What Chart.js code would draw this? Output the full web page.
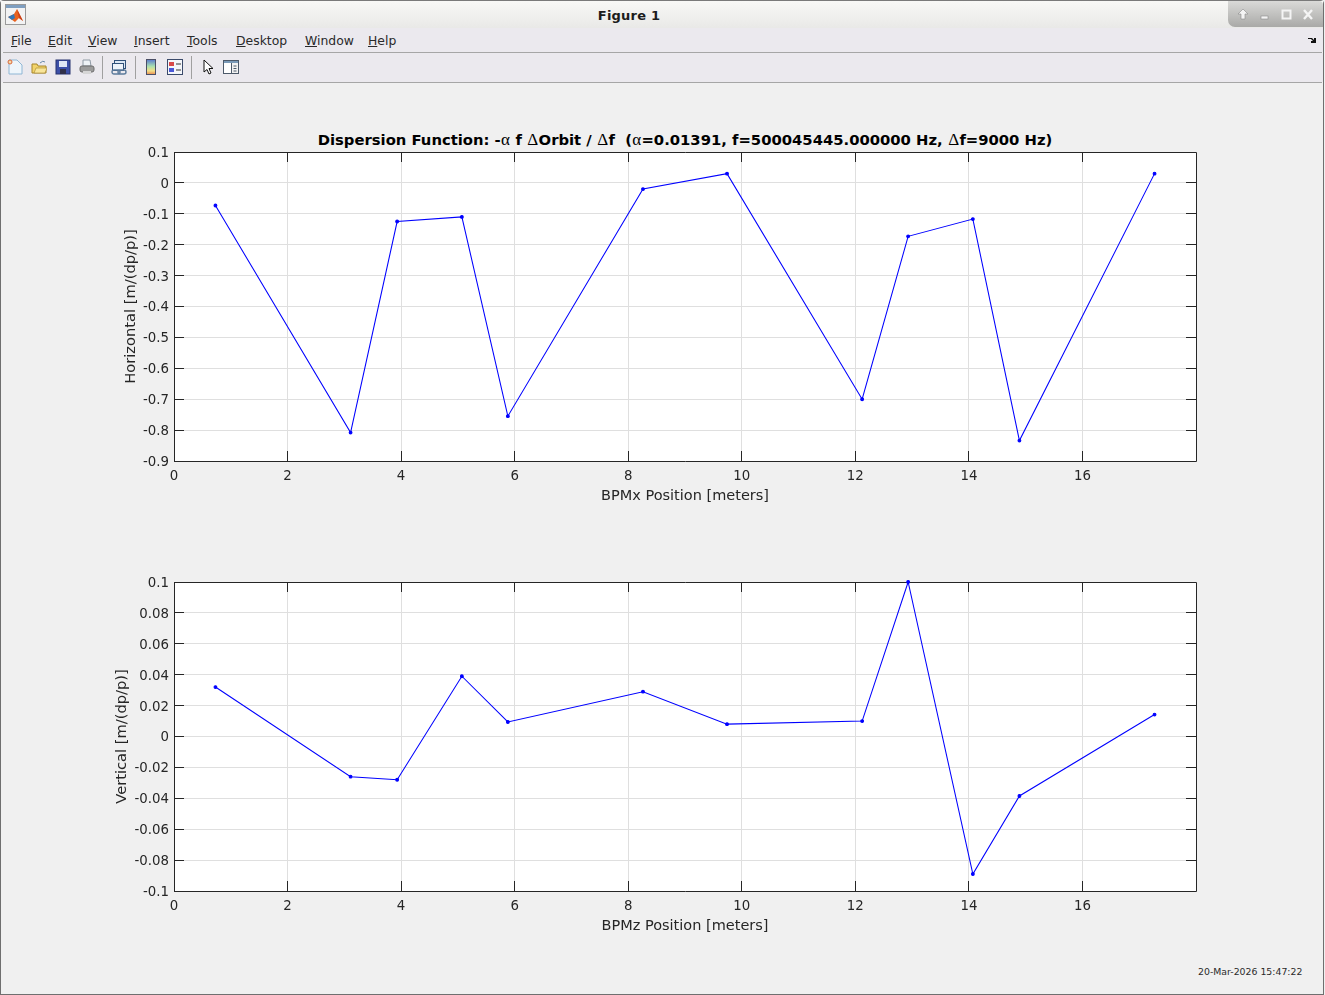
<!DOCTYPE html>
<html>
<head>
<meta charset="utf-8">
<title>Figure 1</title>
<script src="https://cdn.jsdelivr.net/npm/chart.js@4/dist/chart.umd.min.js"></script>
<style>
  html, body { margin: 0; padding: 0; width: 1325px; height: 995px; overflow: hidden; background: #f0f0f0; font-family: "DejaVu Sans", sans-serif; }
  .abs { position: absolute; }
  #win { position: absolute; left: 0; top: 0; width: 1324px; height: 995px; border: 1px solid #6f6f6f; border-top: 1px solid #7a7a7a; box-sizing: border-box; border-radius: 4px 4px 0 0; }
  #titlebar { left: 1px; top: 1px; width: 1322px; height: 27px; background: linear-gradient(#f8f8f6, #e9e9e7); }
  #figname { left: 529px; top: 8px; width: 200px; text-align: center; font-weight: bold; font-size: 13px; color: #1c1c1c; letter-spacing: .2px; }
  #btns { left: 1228px; top: 1px; width: 95px; height: 26px; background: linear-gradient(#dadad8, #a9a9a7); border-radius: 0 4px 0 7px; }
  #menubar { left: 1px; top: 28px; width: 1322px; height: 24px; background: #ebe9ee; }
  #toolbar { left: 1px; top: 53px; width: 1322px; height: 29px; background: #ebe9ee; }
  .hr { left: 3px; width: 1319px; height: 1px; background: #a6a6a6; }
  .menu { top: 33px; font-size: 12.4px; color: #2a2a2a; }
  .sep { top: 56px; width: 1px; height: 23px; background: #a0a0a0; }
  .ico { top: 59px; width: 16px; height: 16px; }
  #plotTitle { left: 185px; top: 131px; width: 1000px; text-align: center; font-weight: bold; font-size: 14.8px; color: #000; white-space: pre; }
  #plotTitle i { font-family: "Liberation Serif", serif; font-weight: normal; font-style: normal; font-size: 17px; line-height: 1; padding: 0 .3px; }
  #stamp { left: 1198px; top: 966px; font-size: 9.35px; color: #2a2a2a; }
  canvas { position: absolute; left: 0; }
</style>
</head>
<body>
<div id="win"></div>
<div class="abs" id="titlebar"></div>
<svg class="abs" style="left:5px;top:4px" width="22" height="22" viewBox="0 0 22 22">
  <rect x=".5" y=".5" width="20" height="20" fill="#f3f3f3" stroke="#9a9a9a"/>
  <rect x="1" y="1" width="19" height="3" fill="#7f9fc0"/>
  <path d="M3 13 L9 10 L12 5 L18 17 L14 14 L10 18 Z" fill="#e8621f"/>
  <path d="M3 13 L9 10 L10 14 L7 16 Z" fill="#2f76b8"/>
  <path d="M12 5 L18 17 L14 14 Z" fill="#c9401a"/>
</svg>
<div class="abs" id="figname">Figure 1</div>
<div class="abs" id="btns"></div>
<svg class="abs" style="left:1236px;top:8px" width="82" height="14" viewBox="0 0 82 14">
  <path d="M7 1 L12 6 H9 V11 H5 V6 H2 Z" fill="#f4f4f4" stroke="#8a8a8a" stroke-width=".6"/>
  <rect x="25" y="8" width="7" height="3" fill="#f4f4f4" stroke="#8a8a8a" stroke-width=".6"/>
  <rect x="46.5" y="2.5" width="8" height="8" fill="none" stroke="#f4f4f4" stroke-width="2"/>
  <path d="M68 2 L76 11 M76 2 L68 11" stroke="#f4f4f4" stroke-width="2.4"/>
</svg>
<div class="abs" id="menubar"></div>
<div class="abs hr" style="top:52px"></div>
<div class="abs" id="toolbar"></div>
<div class="abs hr" style="top:82px"></div>
<span class="abs menu" style="left:11px"><u>F</u>ile</span>
<span class="abs menu" style="left:48px"><u>E</u>dit</span>
<span class="abs menu" style="left:88px"><u>V</u>iew</span>
<span class="abs menu" style="left:134px"><u>I</u>nsert</span>
<span class="abs menu" style="left:187px"><u>T</u>ools</span>
<span class="abs menu" style="left:236px"><u>D</u>esktop</span>
<span class="abs menu" style="left:305px"><u>W</u>indow</span>
<span class="abs menu" style="left:368px"><u>H</u>elp</span>
<svg class="abs" style="left:1308px;top:37px" width="9" height="7" viewBox="0 0 9 7"><path d="M0 1 H4 L6 3 V1 H8 V6 H3 V4 H5 L3 2 H0 Z" fill="#111"/></svg>
<svg class="abs ico" style="left:7px" viewBox="0 0 16 16"><path d="M2 1 H10 L15 6 V15 H2 Z" fill="#eef5fb" stroke="#8fb6d4"/><circle cx="3" cy="3" r="2" fill="#f6d9a8" stroke="#d9683a"/></svg>
<svg class="abs ico" style="left:31px" viewBox="0 0 16 16"><path d="M1 5 H6 L7 7 H15 V14 H1 Z" fill="#f2d36b" stroke="#a6852a"/><path d="M3 14 L5 9 H16 L14 14 Z" fill="#f8e59a" stroke="#a6852a" stroke-width=".6"/><path d="M9 4 Q12 1 14 3" fill="none" stroke="#6a88a8"/></svg>
<svg class="abs ico" style="left:55px" viewBox="0 0 16 16"><rect x="1" y="1" width="14" height="14" fill="#3c4fa8" stroke="#27336e"/><rect x="4" y="2" width="8" height="6" fill="#dfe6f5"/><rect x="5" y="10" width="6" height="5" fill="#30304a"/></svg>
<svg class="abs ico" style="left:79px" viewBox="0 0 16 16"><path d="M4 1 H11 L12 7 H4 Z" fill="#eef2f6" stroke="#8f9aa5"/><rect x="1" y="7" width="14" height="6" rx="2" fill="#9b9b9b" stroke="#6d6d6d"/><rect x="4" y="12" width="8" height="3" fill="#d6d6d6"/></svg>
<div class="abs sep" style="left:102px"></div>
<svg class="abs ico" style="left:111px" viewBox="0 0 16 16"><rect x="3.500" y="1.500" width="11" height="8" fill="#dce8f4" stroke="#31527a"/><rect x="1.500" y="4.500" width="11" height="7" fill="#eef4fa" stroke="#31527a"/><rect x="1" y="11" width="8" height="4" rx="2" fill="none" stroke="#5c7b9c" stroke-width="1.400"/><rect x="7" y="11" width="8" height="4" rx="2" fill="none" stroke="#5c7b9c" stroke-width="1.400"/></svg>
<div class="abs sep" style="left:135px"></div>
<svg class="abs ico" style="left:143px" viewBox="0 0 16 16"><defs><linearGradient id="cb" x1="0" y1="0" x2="0" y2="1"><stop offset="0" stop-color="#5a78d0"/><stop offset=".45" stop-color="#a8e0b0"/><stop offset=".75" stop-color="#f2e088"/><stop offset="1" stop-color="#e88a50"/></linearGradient></defs><rect x="3.500" y=".5" width="9" height="15" fill="url(#cb)" stroke="#4a4f66"/></svg>
<svg class="abs ico" style="left:167px" viewBox="0 0 16 16"><rect x=".5" y=".5" width="15" height="15" fill="#f4f6fa" stroke="#3a4a6a"/><rect x="2" y="3" width="5" height="4" fill="#d84a4a"/><rect x="2" y="9" width="5" height="4" fill="#4a58d8"/><path d="M9 5 H14 M9 11 H14" stroke="#333"/></svg>
<div class="abs sep" style="left:191px"></div>
<svg class="abs ico" style="left:200px" viewBox="0 0 16 16"><path d="M4 1 V13 L7 10.500 L9 15 L11 14 L9 9.500 H13 Z" fill="#fff" stroke="#111"/></svg>
<svg class="abs ico" style="left:223px" viewBox="0 0 16 16"><rect x=".5" y="1.500" width="15" height="13" fill="#f2f2f2" stroke="#4d5a6a"/><rect x="1" y="2" width="14" height="2" fill="#7a9ab8"/><rect x="1" y="4" width="7" height="10" fill="#fff"/><path d="M8.500 4 V14 M10.500 7 H13.500 M10.500 9.500 H13.500 M10.500 12 H13.500" stroke="#4d5a6a"/></svg>

<div class="abs" id="plotTitle">Dispersion Function: -<i>α</i> f <i>Δ</i>Orbit / <i>Δ</i>f  (<i>α</i>=0.01391, f=500045445.000000 Hz, <i>Δ</i>f=9000 Hz)</div>
<canvas id="topChart" width="1325" height="390" style="top:125px"></canvas>
<canvas id="botChart" width="1325" height="390" style="top:555px"></canvas>
<div class="abs" id="stamp">20-Mar-2026 15:47:22</div>

<script>
const bpmPos = [0.73, 3.11, 3.93, 5.07, 5.88, 8.26, 9.74, 12.12, 12.93, 14.07, 14.89, 17.27]
const horizontal = [-0.073, -0.808, -0.125, -0.11, -0.755, -0.02, 0.03, -0.70, -0.173, -0.117, -0.834, 0.03]
const vertical = [0.032, -0.026, -0.028, 0.039, 0.0094, 0.029, 0.008, 0.01, 0.1, -0.089, -0.0385, 0.0142]

const xTicks = [0, 2, 4, 6, 8, 10, 12, 14, 16]
const topTicks = [0.1, 0, -0.1, -0.2, -0.3, -0.4, -0.5, -0.6, -0.7, -0.8, -0.9]
const botTicks = [0.1, 0.08, 0.06, 0.04, 0.02, 0, -0.02, -0.04, -0.06, -0.08, -0.1]

const tickColor = '#262626'
const gridColor = '#dfdfdf'

// white plot background, black box and the inward ticks matlab draws
const axesBox = {
  id: 'axesBox',
  beforeDraw(chart) {
    const a = chart.chartArea, c = chart.ctx
    c.save()
    c.fillStyle = '#fff'
    c.fillRect(a.left, a.top, a.width, a.height)
    c.restore()
    // canvas middle baseline sits high for these digits, nudge the y labels down
    chart.scales.y.getLabelItems().forEach(item => {
      if (!item.nudged) { item.options.translation[1] += 1.5; item.nudged = true }
    })
  },
  beforeDatasetsDraw(chart) {
    const a = chart.chartArea, c = chart.ctx
    const len = 10
    const align = Chart.helpers._alignPixel
    c.save()
    c.strokeStyle = tickColor
    c.lineWidth = 1
    c.beginPath()
    chart.scales.x.ticks.forEach(t => {
      const px = align(chart, chart.scales.x.getPixelForValue(t.value), 1)
      c.moveTo(px, a.top); c.lineTo(px, a.top + len)
      c.moveTo(px, a.bottom); c.lineTo(px, a.bottom - len)
    })
    chart.scales.y.ticks.forEach(t => {
      const py = align(chart, chart.scales.y.getPixelForValue(t.value), 1)
      c.moveTo(a.left, py); c.lineTo(a.left + len, py)
      c.moveTo(a.right, py); c.lineTo(a.right - len, py)
    })
    c.rect(a.left + 0.5, a.top + 0.5, a.width, a.height)
    c.stroke()
    c.restore()
  }
}

function makeAxes(id, yValues, yTicks, yMin, yMax, xLabel, yLabel, yTitlePad) {
  new Chart(document.getElementById(id), {
    type: 'line',
    data: {
      datasets: [{
        data: bpmPos.map((x, i) => ({ x: x, y: yValues[i] })),
        borderColor: '#0000ff',
        backgroundColor: '#0000ff',
        borderWidth: 1.05,
        pointRadius: 1.4,
        tension: 0,
        clip: false
      }]
    },
    plugins: [axesBox],
    options: {
      responsive: false,
      animation: false,
      events: [],
      layout: { padding: { left: 0, right: 129, top: 27, bottom: 10 } },
      plugins: { legend: { display: false }, tooltip: { enabled: false } },
      scales: {
        x: {
          type: 'linear',
          min: 0,
          max: 18,
          afterBuildTicks: s => { s.ticks = xTicks.map(v => ({ value: v })) },
          afterFit: s => { s.height = 44 },
          grid: { color: gridColor, drawTicks: false },
          border: { display: false },
          ticks: { color: tickColor, font: { size: 13.33, family: 'DejaVu Sans' }, padding: 8, maxRotation: 0, callback: v => String(v) },
          title: { display: true, text: xLabel, color: tickColor, font: { size: 14.5, family: 'DejaVu Sans' }, padding: { top: 4, bottom: 0 } }
        },
        y: {
          min: yMin,
          max: yMax,
          afterBuildTicks: s => { s.ticks = yTicks.map(v => ({ value: v })) },
          afterFit: s => { s.width = 174 },
          grid: { color: gridColor, drawTicks: false },
          border: { display: false },
          ticks: { color: tickColor, font: { size: 13.33, family: 'DejaVu Sans' }, padding: 5, callback: v => String(v) },
          title: { display: true, text: yLabel, color: tickColor, font: { size: 14.67, family: 'DejaVu Sans' }, padding: { top: yTitlePad, bottom: 0 } }
        }
      }
    }
  })
}

makeAxes('topChart', horizontal, topTicks, -0.9, 0.1, 'BPMx Position [meters]', 'Horizontal [m/(dp/p)]', 122)
makeAxes('botChart', vertical, botTicks, -0.1, 0.1, 'BPMz Position [meters]', 'Vertical [m/(dp/p)]', 113)
</script>
</body>
</html>
